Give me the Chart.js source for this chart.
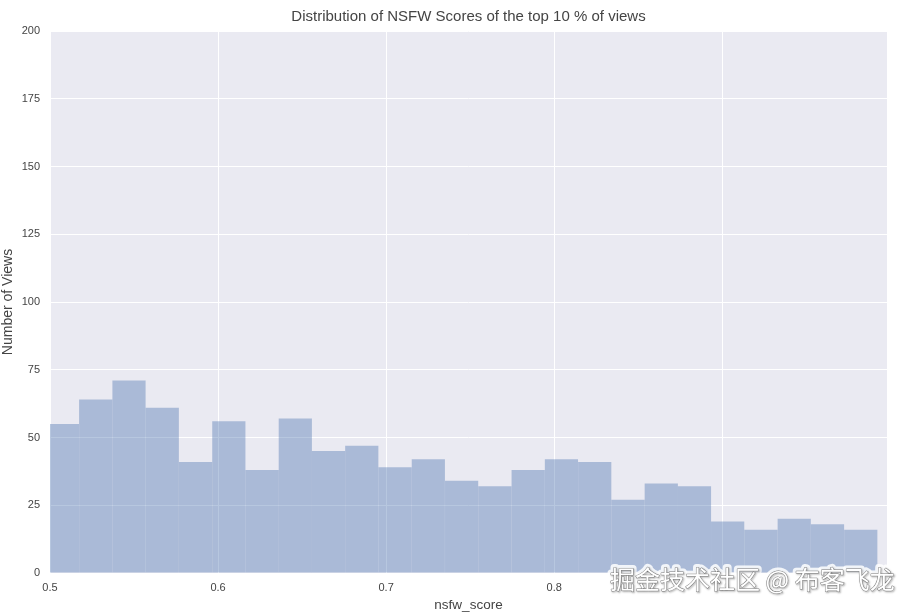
<!DOCTYPE html>
<html>
<head>
<meta charset="utf-8">
<script src="https://cdn.jsdelivr.net/npm/chart.js@4.4.1/dist/chart.umd.min.js"></script>
<style>
html,body{margin:0;padding:0;background:#fff;}
#wrap{width:913px;height:613px;}
</style>
</head>
<body>
<div id="wrap"><canvas id="c" width="913" height="613"></canvas></div>
<script>
const chartTitle = 'Distribution of NSFW Scores of the top 10 % of views';
const xLabel = 'nsfw_score';
const yLabel = 'Number of Views';
const watermark = '掘金技术社区 @ 布客飞龙';

// histogram bin edges (25 bins)
const binEdges = [0.4975, 0.5173, 0.5371, 0.5569, 0.5767, 0.5965, 0.6163, 0.6361, 0.6558,
  0.6756, 0.6954, 0.7152, 0.7350, 0.7548, 0.7746, 0.7944, 0.8142, 0.8340, 0.8538,
  0.8736, 0.8933, 0.9131, 0.9329, 0.9527, 0.9725, 0.9923];
// counts per bin
const counts = [55, 64, 71, 61, 41, 56, 38, 57, 45, 47, 39, 42, 34, 32, 38, 42, 41,
  27, 33, 32, 19, 16, 20, 18, 16];
const xTicks = [0.5, 0.6, 0.7, 0.8, 0.9];
const yTicks = [0, 25, 50, 75, 100, 125, 150, 175, 200];

const points = counts.map((c, i) => ({x: (binEdges[i] + binEdges[i + 1]) / 2, y: c}));

const bgPlugin = {
  id: 'bg',
  beforeDraw(chart) {
    const {ctx, chartArea: a} = chart;
    ctx.save();
    ctx.fillStyle = '#EAEAF2';
    ctx.fillRect(a.left, a.top, a.right - a.left, a.bottom - a.top);
    ctx.restore();
  },
  afterDraw(chart) {
    const ctx = chart.ctx;
    ctx.save();
    ctx.font = '25px "Noto Sans CJK SC"';
    ctx.textBaseline = 'middle';
    ctx.textAlign = 'left';
    // soft white halo behind the watermark
    ctx.lineJoin = 'round';
    ctx.lineWidth = 7;
    ctx.strokeStyle = 'rgba(255,255,255,0.85)';
    ctx.strokeText(watermark, 610, 579);
    ctx.shadowColor = 'rgba(0,0,0,0.5)';
    ctx.shadowBlur = 2;
    ctx.shadowOffsetX = 1;
    ctx.shadowOffsetY = 1;
    ctx.lineWidth = 1;
    ctx.strokeStyle = 'rgba(100,100,100,0.8)';
    ctx.strokeText(watermark, 610, 579);
    ctx.shadowColor = 'transparent';
    ctx.fillStyle = '#ffffff';
    ctx.fillText(watermark, 610, 579);
    ctx.restore();
  }
};

new Chart(document.getElementById('c'), {
  type: 'bar',
  data: {
    datasets: [{
      data: points,
      backgroundColor: 'rgba(76,114,176,0.4)',
      borderWidth: 0,
      inflateAmount: 0,
      barPercentage: 1,
      categoryPercentage: 1
    }]
  },
  options: {
    responsive: false,
    animation: false,
    layout: {padding: {top: 0, right: 26, bottom: 0, left: 0}},
    plugins: {
      legend: {display: false},
      tooltip: {enabled: false},
      title: {
        display: true,
        text: chartTitle,
        fullSize: false,
        color: '#444',
        font: {family: '"Liberation Sans", Arial, sans-serif', size: 15, weight: 'normal'},
        padding: {top: 8, bottom: 5}
      }
    },
    scales: {
      x: {
        type: 'linear',
        min: 0.5,
        max: 0.998,
        offset: false,
        afterFit(s) { s.height = 40; },
        afterBuildTicks(s) { s.ticks = xTicks.map(v => ({value: v})); },
        ticks: {
          includeBounds: false,
          color: '#444',
          padding: 8,
          font: {family: '"Liberation Sans", Arial, sans-serif', size: 11},
          callback: v => Number(v).toFixed(1),
          maxRotation: 0
        },
        grid: {color: '#ffffff', lineWidth: 1, drawTicks: false, offset: false},
        border: {display: false},
        title: {
          display: true, text: xLabel, color: '#444',
          font: {family: '"Liberation Sans", Arial, sans-serif', size: 13.5},
          padding: {top: 0, bottom: 0}
        }
      },
      y: {
        min: 0,
        max: 200,
        afterFit(s) { s.width = 50; },
        afterBuildTicks(s) { s.ticks = yTicks.map(v => ({value: v})); },
        ticks: {
          color: '#444',
          padding: 10,
          font: {family: '"Liberation Sans", Arial, sans-serif', size: 11}
        },
        grid: {color: '#ffffff', lineWidth: 1, drawTicks: false},
        border: {display: false},
        title: {
          display: true, text: yLabel, color: '#444',
          font: {family: '"Liberation Sans", Arial, sans-serif', size: 14},
          padding: {top: 0, bottom: 0}
        }
      }
    }
  },
  plugins: [bgPlugin]
});
</script>
</body>
</html>
